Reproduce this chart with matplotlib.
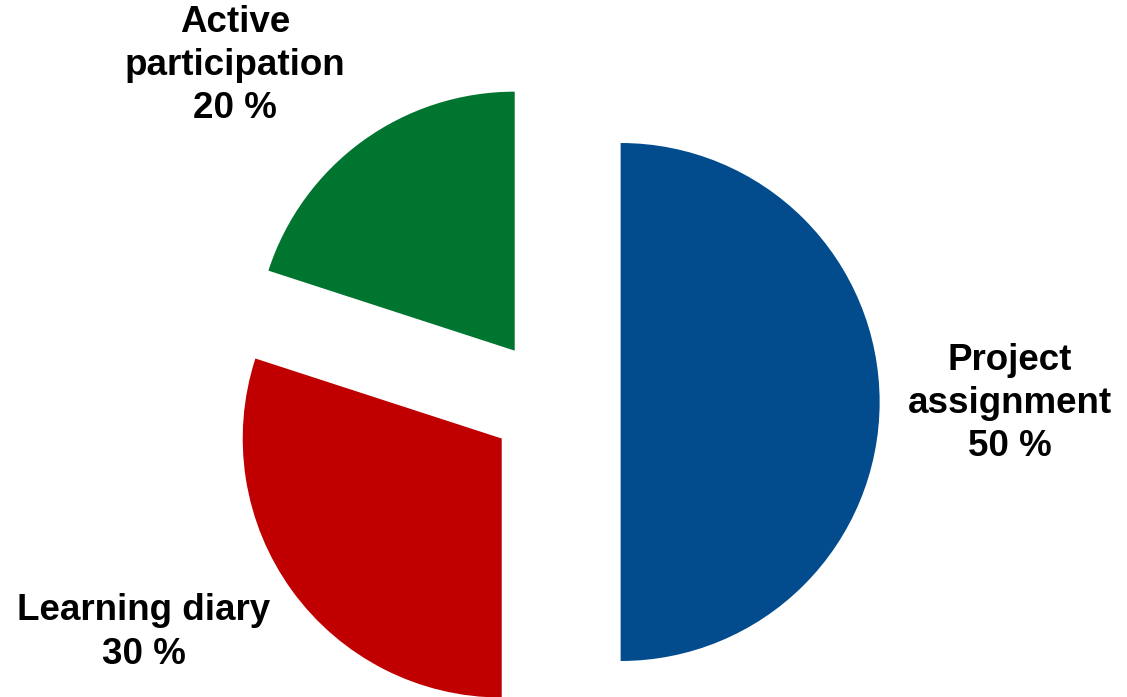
import numpy as np
import matplotlib.pyplot as plt

categories = ['Project\nassignment', 'Learning diary', 'Active\nparticipation']
shares = [50, 30, 20]
colors = ['#024C8E', '#C00000', '#00752F']
explode = [0.265, 0.24, 0.245]
# where each label sits (data units, pie radius = 1)
label_pos = [(1.768, -0.005), (-1.577, -0.89), (-1.225, 1.30)]

plt.rcParams['font.family'] = ['Liberation Sans', 'DejaVu Sans']

fig = plt.figure(figsize=(11.27, 6.97), dpi=100)
ax = fig.add_axes([0, 0, 1, 1])

ax.pie(shares, colors=colors, explode=explode, startangle=90,
       counterclock=False, radius=1, wedgeprops=dict(linewidth=0))

for name, val, (x, y) in zip(categories, shares, label_pos):
    ax.text(x, y, f'{name}\n{val} %', ha='center', va='center',
            fontsize=26.5, fontweight='bold', linespacing=1.3)

# pie centre at about (552, 402) px, radius 259 px
ax.set_xlim(-552 / 259, (1127 - 552) / 259)
ax.set_ylim(-(697 - 402) / 259, 402 / 259)
ax.set_aspect('auto')
ax.axis('off')

fig.savefig('out.png', dpi=100)
